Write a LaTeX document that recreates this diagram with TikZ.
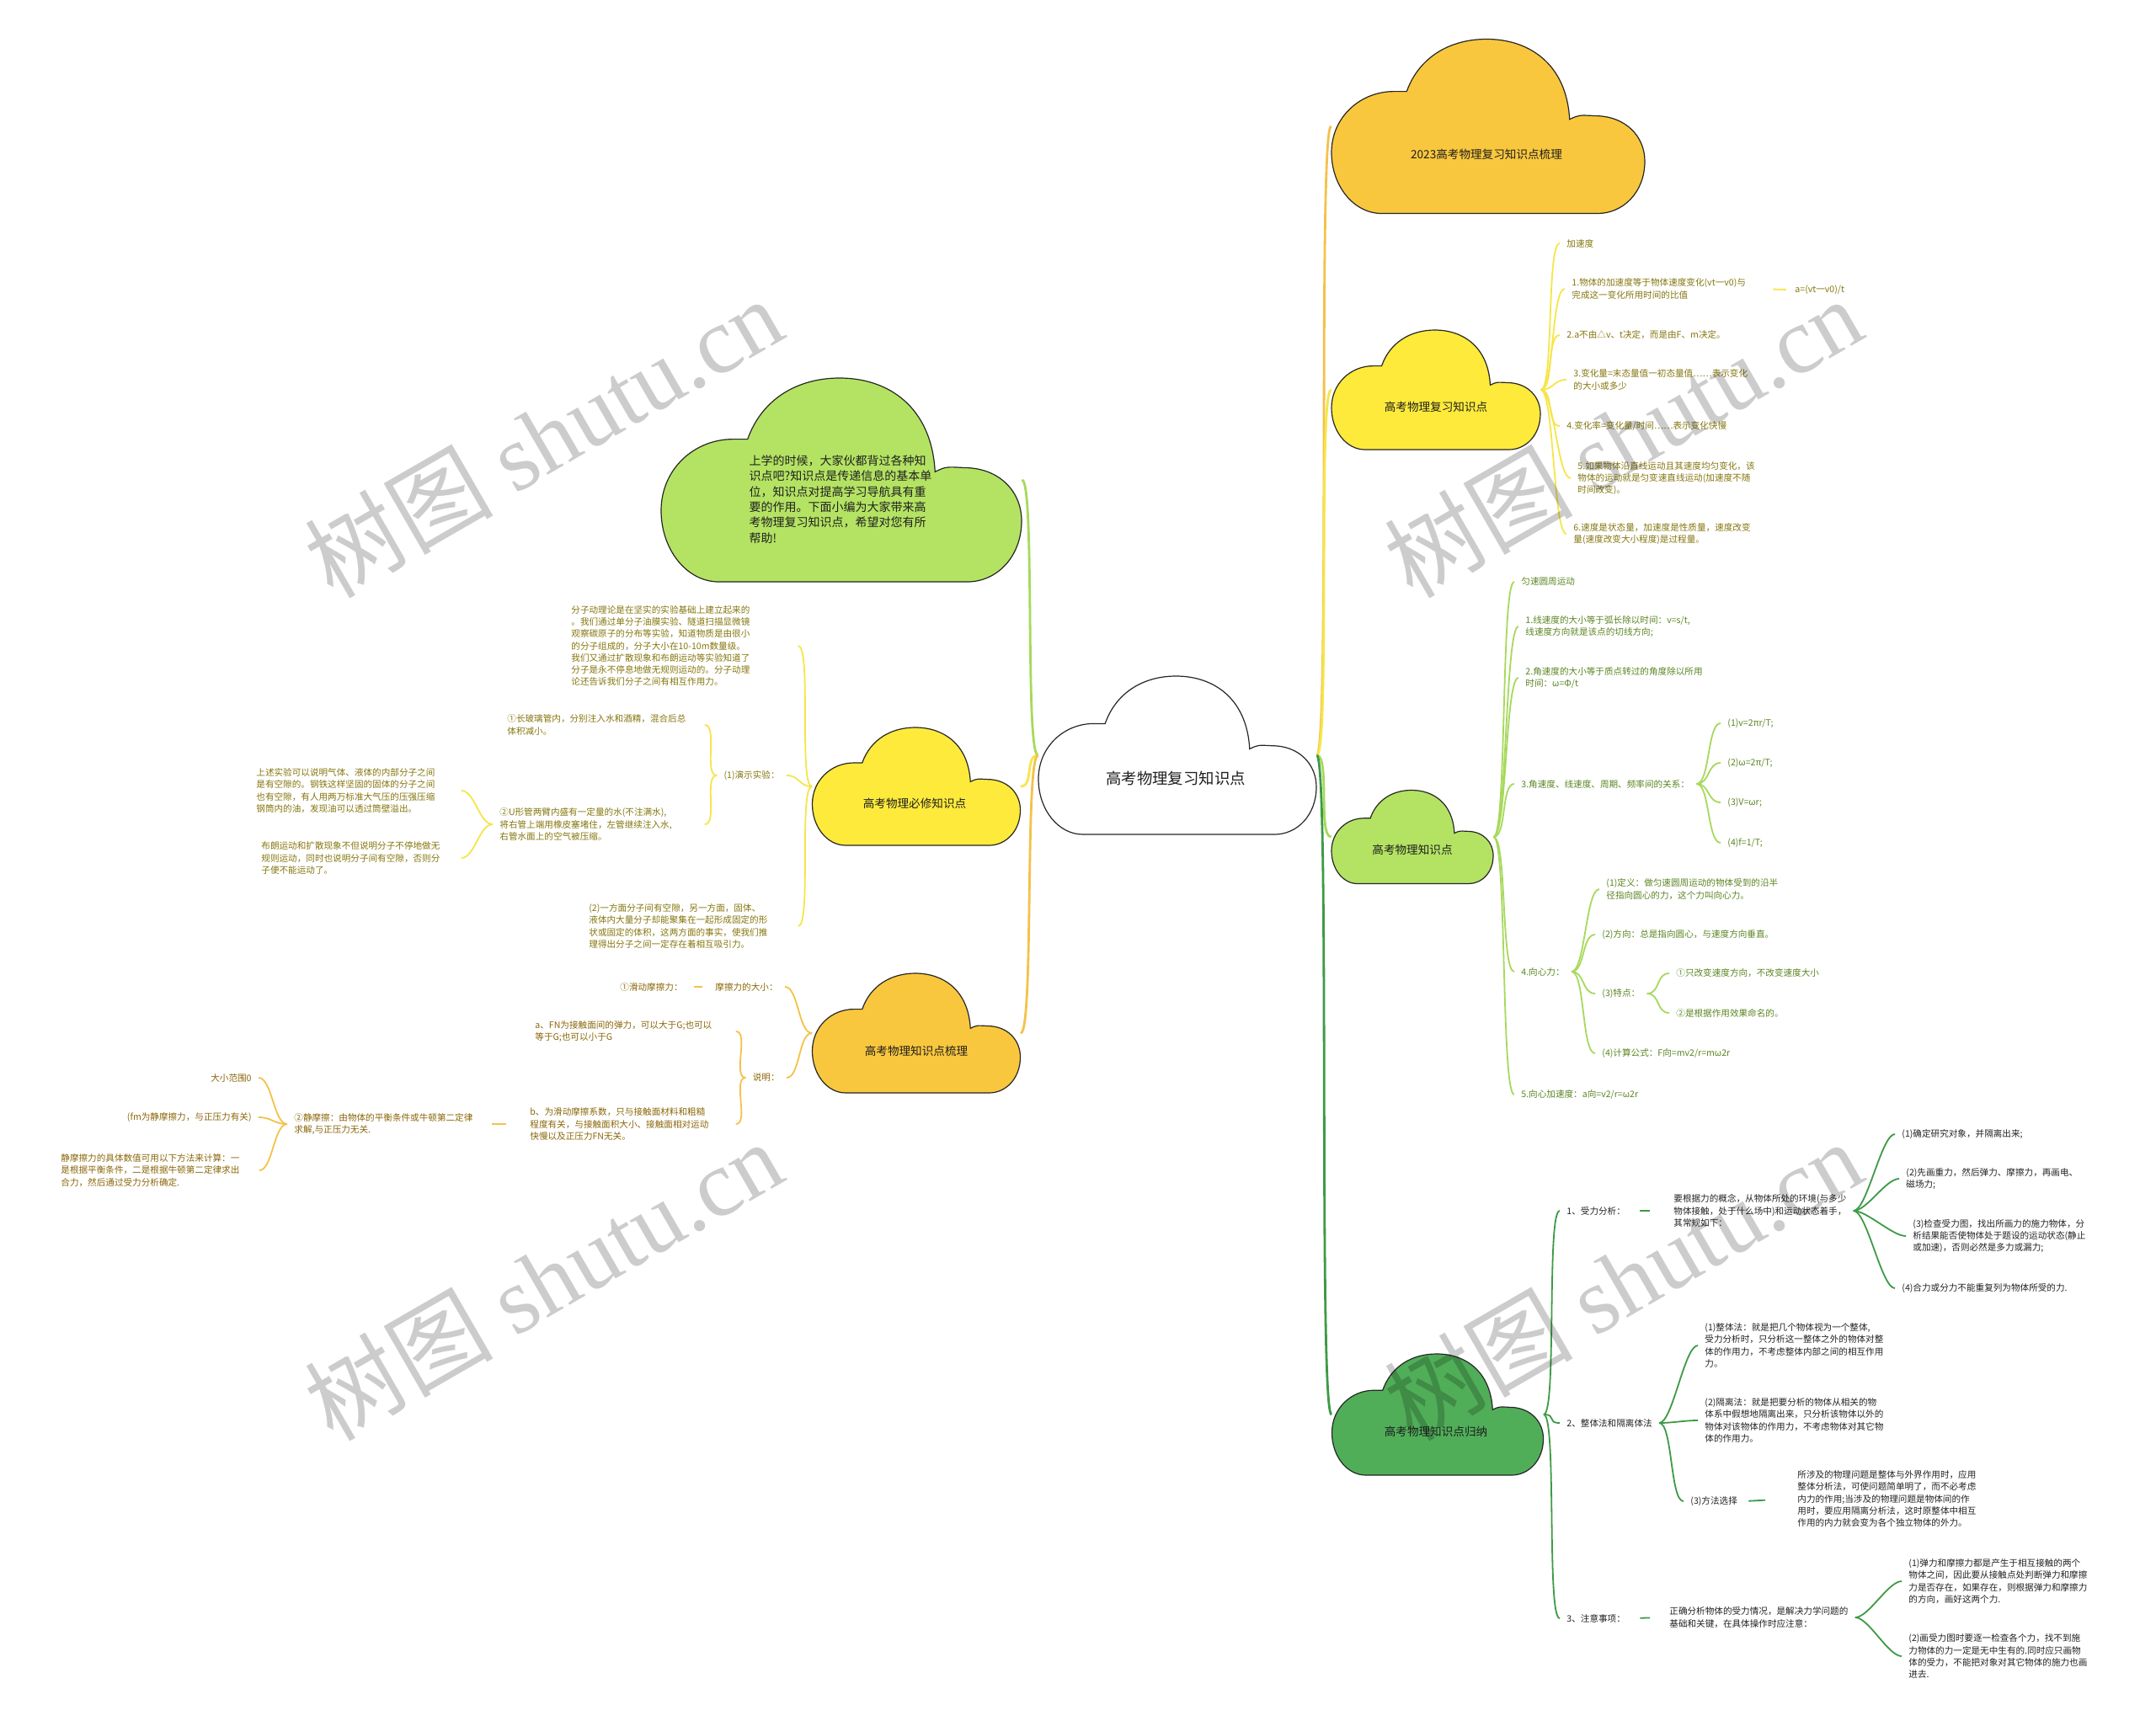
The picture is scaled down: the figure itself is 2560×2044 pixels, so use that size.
\documentclass[tikz,border=0pt]{standalone}
\usepackage{fontspec}
\setmainfont{Noto Sans CJK SC}
\newfontfamily\wmlatin{Liberation Serif}

\definecolor{corange}{HTML}{F9C73E}
\definecolor{cyellow}{HTML}{FDEA3B}
\definecolor{clime}{HTML}{B4E363}
\definecolor{cgreen}{HTML}{50AE58}
\definecolor{lorange}{HTML}{F4C24A}
\definecolor{lyellow}{HTML}{F6E54A}
\definecolor{llime}{HTML}{A7D95C}
\definecolor{lgreen}{HTML}{3E9A46}
\definecolor{tyellow}{HTML}{85760E}
\definecolor{tlime}{HTML}{5B8522}
\definecolor{tgreen}{HTML}{232323}
\definecolor{torange}{HTML}{8A6608}

\begin{document}
\begin{tikzpicture}[x=0.5pt, y=-0.5pt,
    pics/cloudpic/.style 2 args={code={
      \path[pic actions, xscale=#1, yscale=#2]
        (-0.34,0.5) .. controls (-0.43,0.5) and (-0.5,0.34) .. (-0.5,0.15)
        .. controls (-0.5,-0.05) and (-0.41,-0.2) .. (-0.3,-0.2) -- (-0.26,-0.2)
        .. controls (-0.22,-0.4) and (-0.12,-0.5) .. (-0.005,-0.5)
        .. controls (0.13,-0.5) and (0.25,-0.36) .. (0.26,-0.04)
        .. controls (0.29,-0.065) .. (0.34,-0.06)
        .. controls (0.44,-0.06) and (0.5,0.06) .. (0.5,0.2)
        .. controls (0.5,0.38) and (0.43,0.5) .. (0.35,0.5) -- cycle;}},
    cloudsty/.style={draw=black!85, line width=0.6pt, fill=#1},
    cbox/.style 2 args={minimum width=#1*0.5pt, minimum height=#2*0.5pt, inner sep=0pt},
    ctext/.style={font=\fontsize{6.8}{8.5}\selectfont, text=black!88, inner sep=0pt},
    rleaf/.style={font=\fontsize{5.3}{7.1}\selectfont, text=#1, align=left,
                  anchor=west, inner xsep=4pt, inner ysep=1pt},
    lleaf/.style={rleaf=#1, anchor=east},
    wleaf/.style 2 args={rleaf=#1, text width=#2},
    rlink/.style={draw=#1, line width=0.9pt, out=0, in=180, distance=8pt},
    llink/.style={draw=#1, line width=0.9pt, out=180, in=0, distance=8pt},
    trunk/.style={line width=1.4pt},
    dlink/.style={draw=#1, line width=0.9pt},
    wmark/.style={rotate=30, text=black, text opacity=0.2, font=\fontsize{56}{56}\selectfont}]

  \fill[white] (0,0) rectangle (2560,2044);
  \useasboundingbox (0,0) rectangle (2560,2044);

  % ---- clouds
  \pic[cloudsty=white] at (1398,897) {cloudpic={330}{188}};
  \node[cbox={330}{188}] (root) at (1398,897) {};
  \node[ctext, font=\fontsize{9.2}{11}\selectfont] (rootT) at (1396,924) {高考物理复习知识点};

  \pic[cloudsty=corange] at (1767,150) {cloudpic={372}{207}};
  \node[cbox={372}{207}] (sum2023) at (1767,150) {};
  \node[ctext] (sum2023T) at (1765,183) {2023高考物理复习知识点梳理};

  \pic[cloudsty=cyellow] at (1705,463) {cloudpic={248}{142}};
  \node[cbox={248}{142}] (review) at (1705,463) {};
  \node[ctext] (reviewT) at (1705,483) {高考物理复习知识点};

  \pic[cloudsty=clime] at (1677,994) {cloudpic={192}{111}};
  \node[cbox={192}{111}] (points) at (1677,994) {};
  \node[ctext] (pointsT) at (1677,1009) {高考物理知识点};

  \pic[cloudsty=cgreen] at (1707,1680) {cloudpic={251}{144}};
  \node[cbox={251}{144}] (induct) at (1707,1680) {};
  \node[ctext] (inductT) at (1705,1700) {高考物理知识点归纳};

  \pic[cloudsty=clime] at (999,570) {cloudpic={428}{242}};
  \node[cbox={428}{242}] (intro) at (999,570) {};
  \node[ctext, font=\fontsize{7}{9.15}\selectfont, align=left] (introT) at (998,593)
    {上学的时候，大家伙都背过各种知\\识点吧?知识点是传递信息的基本单\\位，知识点对提高学习导航具有重\\要的作用。下面小编为大家带来高\\考物理复习知识点，希望对您有所\\帮助!};

  \pic[cloudsty=cyellow] at (1088,934) {cloudpic={247}{140}};
  \node[cbox={247}{140}] (required) at (1088,934) {};
  \node[ctext] (requiredT) at (1086,954) {高考物理必修知识点};

  \pic[cloudsty=corange] at (1088,1227) {cloudpic={247}{142}};
  \node[cbox={247}{142}] (sort) at (1088,1227) {};
  \node[ctext] (sortT) at (1088,1248) {高考物理知识点梳理};

  % ---- review branch
  \node[rleaf=tyellow] (r0) at (1852,289) {加速度};
  \node[rleaf=tyellow] (r1) at (1858,343) {1.物体的加速度等于物体速度变化(vt一v0)与\\完成这一变化所用时间的比值};
  \node[rleaf=tyellow] (r1a) at (2123,344) {a=(vt一v0)/t};
  \node[rleaf=tyellow] (r2) at (1852,398) {2.a不由△v、t决定，而是由F、m决定。};
  \node[rleaf=tyellow] (r3) at (1860,451) {3.变化量=末态量值一初态量值……表示变化\\的大小或多少};
  \node[rleaf=tyellow] (r4) at (1852,506) {4.变化率=变化量/时间……表示变化快慢};
  \node[rleaf=tyellow] (r5) at (1865,568) {5.如果物体沿直线运动且其速度均匀变化，该\\物体的运动就是匀变速直线运动(加速度不随\\时间改变)。};
  \node[rleaf=tyellow] (r6) at (1860,634) {6.速度是状态量，加速度是性质量，速度改变\\量(速度改变大小程度)是过程量。};

  % ---- points branch
  \node[rleaf=tlime] (p0) at (1798,691) {匀速圆周运动};
  \node[rleaf=tlime] (p1) at (1803,744) {1.线速度的大小等于弧长除以时间：v=s/t,\\线速度方向就是该点的切线方向;};
  \node[rleaf=tlime] (p2) at (1803,805) {2.角速度的大小等于质点转过的角度除以所用\\时间：ω=Φ/t};
  \node[rleaf=tlime] (p3) at (1798,931) {3.角速度、线速度、周期、频率间的关系：};
  \node[rleaf=tlime] (p3a) at (2043,859) {(1)v=2πr/T;};
  \node[rleaf=tlime] (p3b) at (2043,906) {(2)ω=2π/T;};
  \node[rleaf=tlime] (p3c) at (2043,953) {(3)V=ωr;};
  \node[rleaf=tlime] (p3d) at (2043,1001) {(4)f=1/T;};
  \node[rleaf=tlime] (p4) at (1798,1154) {4.向心力：};
  \node[rleaf=tlime] (p4a) at (1899,1056) {(1)定义：做匀速圆周运动的物体受到的沿半\\径指向圆心的力，这个力叫向心力。};
  \node[rleaf=tlime] (p4b) at (1894,1110) {(2)方向：总是指向圆心，与速度方向垂直。};
  \node[rleaf=tlime] (p4c) at (1894,1180) {(3)特点：};
  \node[rleaf=tlime] (p4c1) at (1982,1156) {①只改变速度方向，不改变速度大小};
  \node[rleaf=tlime] (p4c2) at (1982,1203) {②是根据作用效果命名的。};
  \node[rleaf=tlime] (p4d) at (1894,1251) {(4)计算公式：F向=mv2/r=mω2r};
  \node[rleaf=tlime] (p5) at (1798,1300) {5.向心加速度：a向=v2/r=ω2r};

  % ---- induct branch
  \node[rleaf=tgreen] (g1) at (1852,1438) {1、受力分析：};
  \node[rleaf=tgreen] (g1t) at (1979,1438) {要根据力的概念，从物体所处的环境(与多少\\物体接触，处于什么场中)和运动状态着手，\\其常规如下：};
  \node[rleaf=tgreen] (g1a) at (2250,1347) {(1)确定研究对象，并隔离出来;};
  \node[rleaf=tgreen] (g1b) at (2255,1400) {(2)先画重力，然后弹力、摩擦力，再画电、\\磁场力;};
  \node[rleaf=tgreen] (g1c) at (2263,1468) {(3)检查受力图，找出所画力的施力物体，分\\析结果能否使物体处于题设的运动状态(静止\\或加速)，否则必然是多力或漏力;};
  \node[rleaf=tgreen] (g1d) at (2250,1530) {(4)合力或分力不能重复列为物体所受的力.};
  \node[rleaf=tgreen] (g2) at (1852,1690) {2、整体法和隔离体法};
  \node[rleaf=tgreen] (g2a) at (2016,1598) {(1)整体法：就是把几个物体视为一个整体,\\受力分析时，只分析这一整体之外的物体对整\\体的作用力，不考虑整体内部之间的相互作用\\力。};
  \node[rleaf=tgreen] (g2b) at (2016,1687) {(2)隔离法：就是把要分析的物体从相关的物\\体系中假想地隔离出来，只分析该物体以外的\\物体对该物体的作用力，不考虑物体对其它物\\体的作用力。};
  \node[rleaf=tgreen] (g2c) at (1999,1783) {(3)方法选择};
  \node[rleaf=tgreen] (g2ct) at (2126,1780) {所涉及的物理问题是整体与外界作用时，应用\\整体分析法，可使问题简单明了，而不必考虑\\内力的作用;当涉及的物理问题是物体间的作\\用时，要应用隔离分析法，这时原整体中相互\\作用的内力就会变为各个独立物体的外力。};
  \node[rleaf=tgreen] (g3) at (1852,1922) {3、注意事项：};
  \node[rleaf=tgreen] (g3t) at (1974,1921) {正确分析物体的受力情况，是解决力学问题的\\基础和关键，在具体操作时应注意：};
  \node[rleaf=tgreen] (g3a) at (2258,1878) {(1)弹力和摩擦力都是产生于相互接触的两个\\物体之间，因此要从接触点处判断弹力和摩擦\\力是否存在，如果存在，则根据弹力和摩擦力\\的方向，画好这两个力.};
  \node[rleaf=tgreen] (g3b) at (2258,1967) {(2)画受力图时要逐一检查各个力，找不到施\\力物体的力一定是无中生有的.同时应只画物\\体的受力，不能把对象对其它物体的施力也画\\进去.};

  % ---- required branch (left)
  \node[wleaf={tyellow}{130.5pt}] (q1) at (670,767) {分子动理论是在坚实的实验基础上建立起来的\\。我们通过单分子油膜实验、隧道扫描显微镜\\观察碳原子的分布等实验，知道物质是由很小\\的分子组成的，分子大小在10-10m数量级。\\我们又通过扩散现象和布朗运动等实验知道了\\分子是永不停息地做无规则运动的。分子动理\\论还告诉我们分子之间有相互作用力。};
  \node[lleaf=tyellow] (q2) at (934,921) {(1)演示实验：};
  \node[wleaf={tyellow}{113pt}] (q2a) at (594,861) {①长玻璃管内，分别注入水和酒精，混合后总\\体积减小。};
  \node[wleaf={tyellow}{117.5pt}] (q2b) at (585,979) {②U形管两臂内盛有一定量的水(不注满水),\\将右管上端用橡皮塞堵住，左管继续注入水,\\右管水面上的空气被压缩。};
  \node[wleaf={tyellow}{117.5pt}] (q2b1) at (296,939) {上述实验可以说明气体、液体的内部分子之间\\是有空隙的。钢铁这样坚固的固体的分子之间\\也有空隙，有人用两万标准大气压的压强压缩\\钢筒内的油，发现油可以透过筒壁溢出。};
  \node[wleaf={tyellow}{114.5pt}] (q2b2) at (302,1019) {布朗运动和扩散现象不但说明分子不停地做无\\规则运动，同时也说明分子间有空隙，否则分\\子便不能运动了。};
  \node[wleaf={tyellow}{120pt}] (q3) at (691,1100) {(2)一方面分子间有空隙，另一方面，固体、\\液体内大量分子却能聚集在一起形成固定的形\\状或固定的体积，这两方面的事实，使我们推\\理得出分子之间一定存在着相互吸引力。};

  % ---- sort branch (left)
  \node[lleaf=torange] (s1) at (932,1172) {摩擦力的大小：};
  \node[lleaf=torange] (s1a) at (819,1172) {①滑动摩擦力：};
  \node[lleaf=torange] (s2) at (934,1280) {说明：};
  \node[wleaf={torange}{115pt}] (s2a) at (627,1225) {a、FN为接触面间的弹力，可以大于G;也可以\\等于G;也可以小于G};
  \node[wleaf={torange}{118pt}] (s2b) at (621,1335) {b、为滑动摩擦系数，只与接触面材料和粗糙\\程度有关，与接触面积大小、接触面相对运动\\快慢以及正压力FN无关。};
  \node[wleaf={torange}{107pt}] (s2b1) at (341,1335) {②静摩擦：由物体的平衡条件或牛顿第二定律\\求解,与正压力无关.};
  \node[lleaf=torange] (m1) at (307,1280) {大小范围0};
  \node[lleaf=torange] (m2) at (307,1327) {(fm为静摩擦力，与正压力有关)};
  \node[wleaf={torange}{113.5pt}] (m3) at (64,1390) {静摩擦力的具体数值可用以下方法来计算：一\\是根据平衡条件，二是根据牛顿第二定律求出\\合力，然后通过受力分析确定.};

  % ---- trunks
  \draw[rlink=lorange, trunk] (root.east) to (sum2023.west);
  \draw[rlink=lyellow, trunk] (root.east) to (review.west);
  \draw[rlink=llime, trunk] (root.east) to (points.west);
  \draw[rlink=lgreen, trunk] (root.east) to (induct.west);
  \draw[llink=llime, trunk] (root.west) to (intro.east);
  \draw[llink=lyellow, trunk] (root.west) to (required.east);
  \draw[llink=lorange, trunk] (root.west) to (sort.east);

  % ---- branch links
  \foreach \n in {r0,r1,r2,r3,r4,r5,r6}
    \draw[rlink=lyellow] (review.east) to (\n.west);
  \draw[dlink=lyellow, shorten <=12pt, shorten >=1pt] (r1.east) -- (r1a.west);

  \foreach \n in {p0,p1,p2,p3,p4,p5}
    \draw[rlink=llime] (points.east) to (\n.west);
  \foreach \n in {p3a,p3b,p3c,p3d}
    \draw[rlink=llime] (p3.east) to (\n.west);
  \foreach \n in {p4a,p4b,p4c,p4d}
    \draw[rlink=llime] (p4.east) to (\n.west);
  \foreach \n in {p4c1,p4c2}
    \draw[rlink=llime] (p4c.east) to (\n.west);

  \foreach \n in {g1,g2,g3}
    \draw[rlink=lgreen] (induct.east) to (\n.west);
  \draw[dlink=lgreen, shorten <=4.5pt, shorten >=10pt] (g1.east) -- (g1t.west);
  \foreach \n in {g1a,g1b,g1c,g1d}
    \draw[rlink=lgreen] (g1t.east) to (\n.west);
  \foreach \n in {g2a,g2b,g2c}
    \draw[rlink=lgreen] (g2.east) to (\n.west);
  \draw[dlink=lgreen, shorten <=2.5pt, shorten >=15pt] (g2c.east) -- (g2ct.west);
  \draw[dlink=lgreen, shorten <=4.5pt, shorten >=7.5pt] (g3.east) -- (g3t.west);
  \foreach \n in {g3a,g3b}
    \draw[rlink=lgreen] (g3t.east) to (\n.west);

  \foreach \n in {q1,q2,q3}
    \draw[llink=lyellow] (required.west) to (\n.east);
  \foreach \n in {q2a,q2b}
    \draw[llink=lyellow] (q2.west) to (\n.east);
  \foreach \n in {q2b1,q2b2}
    \draw[llink=lyellow] (q2b.west) to (\n.east);

  \foreach \n in {s1,s2}
    \draw[llink=lorange] (sort.west) to (\n.east);
  \draw[dlink=lorange, shorten <=3.5pt, shorten >=2.5pt] (s1.west) -- (s1a.east);
  \foreach \n in {s2a,s2b}
    \draw[llink=lorange] (s2.west) to (\n.east);
  \draw[dlink=lorange, shorten <=10pt, shorten >=6pt] (s2b.west) -- (s2b1.east);
  \foreach \n in {m1,m2,m3}
    \draw[llink=lorange] (s2b1.west) to (\n.east);

  % ---- watermarks
  \node[wmark] (wm1) at (645,519) {树图 {\wmlatin shutu.cn}};
  \node[wmark] (wm2) at (645,1520) {树图 {\wmlatin shutu.cn}};
  \node[wmark] (wm3) at (1927,519) {树图 {\wmlatin shutu.cn}};
  \node[wmark] (wm4) at (1927,1520) {树图 {\wmlatin shutu.cn}};
\end{tikzpicture}
\end{document}
